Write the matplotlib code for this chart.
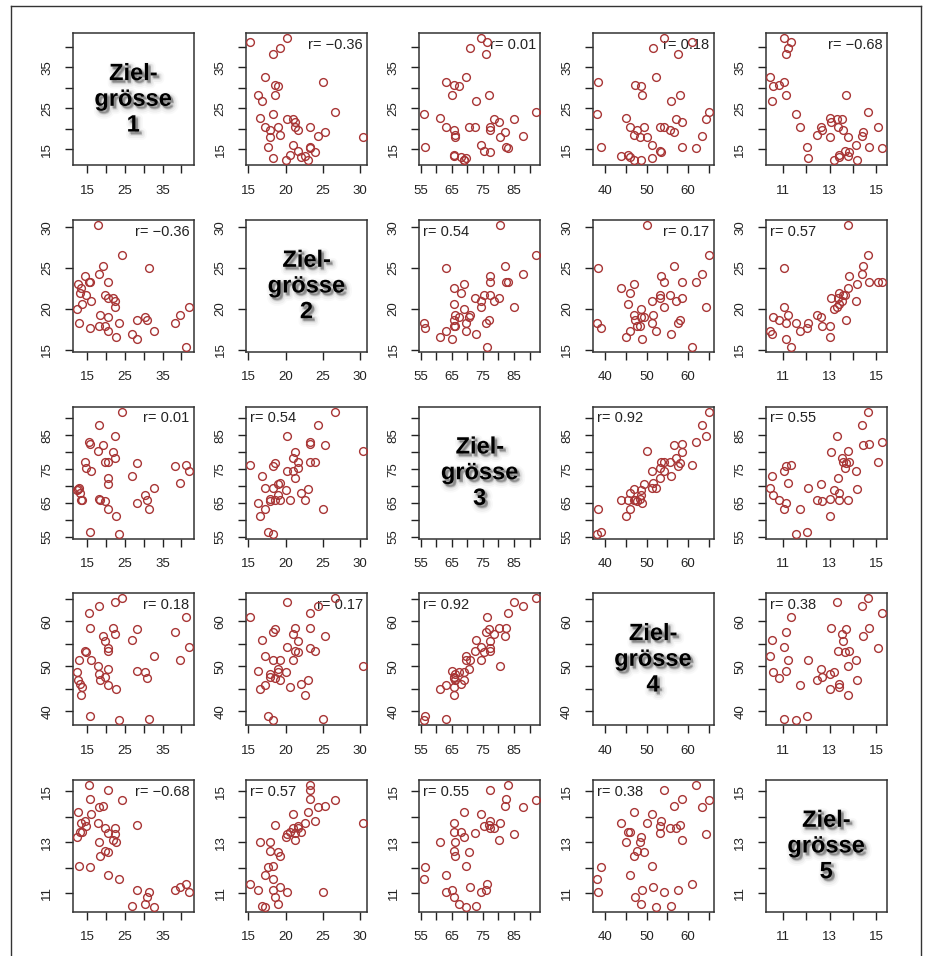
import numpy as np
import matplotlib
matplotlib.use("Agg")
import matplotlib.pyplot as plt
import matplotlib.patheffects as pe
from matplotlib.lines import Line2D

plt.rcParams['font.family'] = ['Liberation Sans', 'DejaVu Sans']

zg1 = [12.3, 12.5, 12.9, 13.1, 13.4, 13.6, 14.3, 14.7, 15.4, 15.6,
       15.6, 16.0, 17.9, 18.1, 18.2, 18.5, 19.2, 19.6, 19.7, 20.4,
       20.5, 20.5, 20.5, 21.7, 22.3, 22.3, 22.6, 23.5, 24.1, 26.9,
       28.2, 28.2, 30.4, 30.8, 31.4, 32.6, 38.2, 39.7, 42.1, 41.2]
zg2 = [20.0, 23.0, 18.3, 22.0, 22.6, 20.6, 24.0, 21.7, 23.3, 23.3,
       17.6, 21.0, 30.3, 17.9, 24.3, 19.3, 25.3, 21.7, 17.9, 17.3,
       23.3, 21.3, 19.0, 21.3, 21.0, 20.2, 16.6, 18.3, 26.6, 16.9,
       18.6, 16.3, 19.0, 18.6, 25.0, 17.3, 18.3, 19.3, 20.2, 15.3]
zg3 = [68.9, 69.0, 69.5, 67.9, 65.8, 65.8, 77.2, 75.3, 83.1, 82.3,
       56.3, 74.5, 80.5, 66.1, 87.9, 66.0, 82.1, 77.2, 65.6, 63.2,
       77.2, 72.3, 70.6, 80.1, 78.4, 84.9, 61.2, 55.9, 92.0, 72.9,
       76.9, 65.1, 67.4, 65.8, 63.1, 69.5, 76.0, 70.9, 74.5, 76.3]
zg4 = [48.7, 47.0, 51.3, 46.1, 43.7, 45.4, 53.5, 53.2, 61.9, 58.6,
       39.0, 51.3, 50.0, 48.4, 63.3, 47.0, 56.7, 55.7, 47.7, 45.9,
       54.1, 53.3, 49.3, 58.6, 57.2, 64.3, 45.0, 38.0, 65.1, 55.9,
       58.2, 49.0, 48.7, 47.3, 38.3, 52.2, 57.6, 51.5, 54.3, 60.9]
zg5 = [13.21, 14.18, 12.08, 13.42, 13.77, 13.42, 13.83, 13.66, 15.26, 14.71,
       12.01, 14.12, 13.77, 13.03, 14.38, 12.47, 14.44, 13.57, 12.66, 11.71,
       15.06, 13.38, 12.62, 13.08, 13.55, 13.31, 13.03, 11.56, 14.65, 10.51,
       13.70, 11.13, 10.58, 10.84, 11.03, 10.45, 11.14, 11.23, 11.06, 11.34]
data = [zg1, zg2, zg3, zg4, zg5]

# tick positions and which of them carry a label
ticks = [[15, 20, 25, 30, 35, 40], [15, 20, 25, 30], [55, 60, 65, 70, 75, 80, 85, 90],
         [40, 45, 50, 55, 60, 65], [11, 12, 13, 14, 15]]
shown = [[15, 25, 35], [15, 20, 25, 30], [55, 65, 75, 85], [40, 50, 60], [11, 13, 15]]

# correlation labels as printed, and on which side they sit
r_pairs = [(0, 1), (0, 2), (0, 3), (0, 4), (1, 2), (1, 3), (1, 4), (2, 3), (2, 4), (3, 4)]
r_vals = ['\u22120.36', '0.01', '0.18', '\u22120.68', '0.54', '0.17', '0.57', '0.92', '0.55', '0.38']
r_side = ['right', 'right', 'right', 'right', 'left', 'right', 'left', 'left', 'left', 'left']

W, H = 927, 956
col_left = [72.7, 246.0, 419.2, 592.5, 765.7]
row_top = [33.3, 220.0, 406.7, 593.3, 780.0]
pw, ph = 121, 132

fig = plt.figure(figsize=(W / 100, H / 100), dpi=100)

# outer frame
fx0, fx1, fy1 = 11 / W, 921 / W, 1 - 6 / H
for xs, ys in [([fx0, fx0], [0, fy1]), ([fx0, fx1], [fy1, fy1]), ([fx1, fx1], [fy1, 0])]:
    fig.add_artist(Line2D(xs, ys, transform=fig.transFigure, color='#333333', lw=1.0))

lims = []
for v in data:
    lo, hi = min(v), max(v)
    pad = 0.04 * (hi - lo)
    lims.append((lo - pad, hi + pad))

red = '#A83535'
# soft drop shadow behind the diagonal titles
shadow = [pe.Stroke(offset=(2, -2.5), linewidth=7, foreground='0.6', alpha=0.06),
          pe.Stroke(offset=(2, -2.5), linewidth=4.5, foreground='0.55', alpha=0.09),
          pe.Stroke(offset=(2, -2), linewidth=2.5, foreground='0.5', alpha=0.13),
          pe.Stroke(offset=(1.5, -1.5), linewidth=1, foreground='0.45', alpha=0.18),
          pe.Normal()]

for i in range(5):
    for j in range(5):
        left = col_left[j] / W
        bottom = 1 - (row_top[i] + ph) / H
        ax = fig.add_axes([left, bottom, pw / W, ph / H])
        ax.set_xlim(lims[j])
        ax.set_ylim(lims[i])
        ax.set_xticks(ticks[j])
        ax.set_xticklabels([str(t) if t in shown[j] else '' for t in ticks[j]])
        ax.set_yticks(ticks[i])
        ax.set_yticklabels([str(t) if t in shown[i] else '' for t in ticks[i]])
        ax.tick_params(length=6, width=1, pad=8, labelsize=9.5, colors='#222222')
        for lab in ax.get_yticklabels():
            lab.set_rotation(90)
            lab.set_va('center')
        for s in ax.spines.values():
            s.set_linewidth(1.1)
            s.set_color('#333333')

        if i == j:
            ax.text(0.5, 0.5, 'Ziel-\ngrösse\n%d' % (i + 1), transform=ax.transAxes,
                    ha='center', va='center', fontsize=17, fontweight='bold',
                    linespacing=1.15, color='black', path_effects=shadow)
            continue

        ax.plot(data[j], data[i], 'o', mfc='none', mec=red, mew=1.0, ms=5.6, zorder=3)

        k = r_pairs.index((min(i, j), max(i, j)))
        if r_side[k] == 'right':
            ax.text(0.965, 0.965, 'r= ' + r_vals[k], transform=ax.transAxes,
                    ha='right', va='top', fontsize=10.5, color='#222222', zorder=2)
        else:
            ax.text(0.035, 0.965, 'r= ' + r_vals[k], transform=ax.transAxes,
                    ha='left', va='top', fontsize=10.5, color='#222222', zorder=2)

fig.savefig('out.png', dpi=100)
